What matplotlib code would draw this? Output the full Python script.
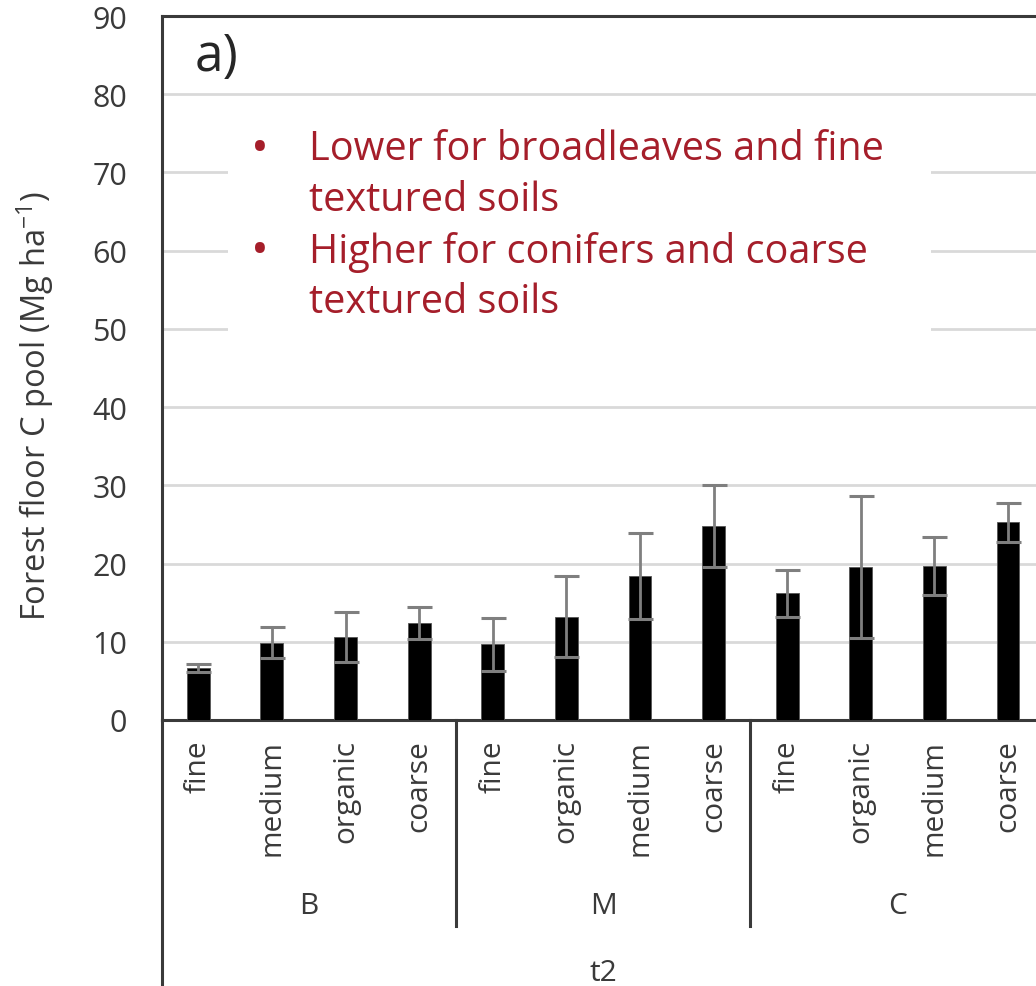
import matplotlib
matplotlib.use("Agg")
import matplotlib.pyplot as plt
import matplotlib.transforms as mtransforms
from matplotlib.patches import Rectangle
import numpy as np

plt.rcParams['font.family'] = ['Open Sans', 'DejaVu Sans']
plt.rcParams['mathtext.default'] = 'regular'

# ---- data ----
categories = ["fine", "medium", "organic", "coarse",
              "fine", "organic", "medium", "coarse",
              "fine", "organic", "medium", "coarse"]
groups = ["B", "M", "C"]
group_size = 4
values = [6.6, 9.9, 10.6, 12.4, 9.7, 13.2, 18.4, 24.8, 16.2, 19.6, 19.7, 25.3]
errors = [0.5, 2.0, 3.2, 2.1, 3.4, 5.2, 5.5, 5.2, 3.0, 9.1, 3.7, 2.5]
yticks = [0, 10, 20, 30, 40, 50, 60, 70, 80, 90]
time_label = "t2"
panel_label = "a)"
ylabel = "Forest floor C pool (Mg ha$^{-1}$)"
bullets = [["Lower for broadleaves and fine", "textured soils"],
           ["Higher for conifers and coarse", "textured soils"]]

W, H = 1036, 987
fig = plt.figure(figsize=(W / 100, H / 100), dpi=100)
ax_l, ax_r, ax_t, ax_b = 162, 1036, 17, 721
ax = fig.add_axes([ax_l / W, (H - ax_b) / H, (ax_r - ax_l) / W, (ax_b - ax_t) / H])

def ax_x(px):
    return (px - ax_l) / (ax_r - ax_l)

def ax_y(py):
    return (ax_b - py) / (ax_b - ax_t)

txtcol = "#3a3a3a"
x = np.arange(len(values))
ax.bar(x, values, width=0.31, color="black", edgecolor="#555555", linewidth=0.6, zorder=3)
ax.errorbar(x, values, yerr=errors, fmt="none", ecolor="#7f7f7f", elinewidth=2.0,
            capsize=9, capthick=2.2, zorder=4)

ax.set_ylim(0, 90)
ax.set_xlim(-0.493, 11.38)
ax.set_yticks(yticks)
ax.set_yticklabels([str(v) for v in yticks], fontsize=22, color=txtcol)
ax.yaxis.grid(True, color="#d9d9d9", linewidth=2.0, zorder=0)
ax.set_axisbelow(True)
ax.tick_params(axis="y", length=0, pad=25)

ax.set_xticks(x)
ax.set_xticklabels(categories, rotation=90, fontsize=21.5, color=txtcol, va="top")
ax.tick_params(axis="x", length=0, pad=14)

for side in ["left", "top", "bottom"]:
    ax.spines[side].set_color("#3a3a3a")
    ax.spines[side].set_linewidth(2.2)
ax.spines["right"].set_visible(False)

ax.set_ylabel(ylabel, fontsize=23.5, color=txtcol)
ax.yaxis.set_label_coords(-0.121, 0.447)

trans = mtransforms.blended_transform_factory(ax.transData, ax.transAxes)
# left spine extension
ax.plot([-0.493, -0.493], [0, -0.40], transform=trans, color="#3a3a3a", lw=2.2, clip_on=False)
# group separators
for g in range(1, len(groups)):
    xs = g * group_size - 0.5
    ax.plot([xs, xs], [0, -0.293], transform=trans, color="#3a3a3a", lw=2.2, clip_on=False)
# group labels
for g, name in enumerate(groups):
    xc = g * group_size + (group_size - 1) / 2
    ax.text(xc, -0.264, name, transform=trans, ha="center", va="center",
            fontsize=21.5, color=txtcol)
ax.text((len(values) - 1) / 2, -0.358, time_label, transform=trans, ha="center",
        va="center", fontsize=21.5, color=txtcol)

# panel label
ax.text(0.037, 0.943, panel_label, transform=ax.transAxes, fontsize=37,
        color="#262626", ha="left", va="center")

# white annotation box
box = Rectangle((ax_x(228), ax_y(340)), ax_x(931) - ax_x(228), ax_y(112) - ax_y(340),
                transform=ax.transAxes, facecolor="white", edgecolor="none", zorder=5)
ax.add_patch(box)
red = "#A51E2A"
y0, step = 150, 51
k = 0
for item in bullets:
    ax.text(ax_x(251), ax_y(y0 + k * step), "\u2022", transform=ax.transAxes,
            fontsize=34, color=red, ha="left", va="center", zorder=6)
    for line in item:
        ax.text(ax_x(309), ax_y(y0 + k * step), line, transform=ax.transAxes,
                fontsize=28.5, color=red, ha="left", va="center", zorder=6)
        k += 1

fig.savefig("out.png", dpi=100)
